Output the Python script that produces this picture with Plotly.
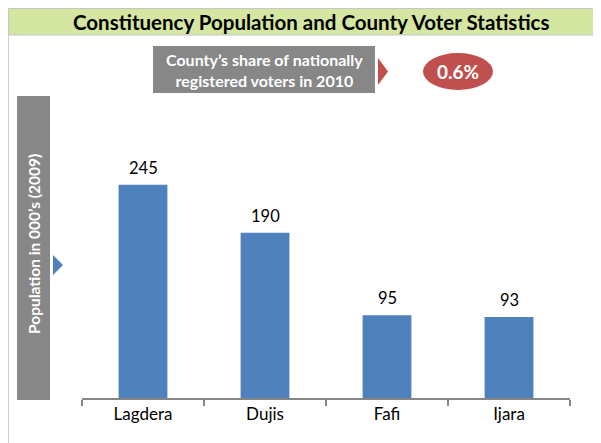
import plotly.graph_objects as go

categories = ["Lagdera", "Dujis", "Fafi", "Ijara"]
population = [245, 190, 95, 93]
title_text = "Constituency Population and County Voter Statistics"
y_title = "Population in 000’s (2009)"
share_label = "County’s share of nationally<br>registered voters in 2010"
share_value = "0.6%"

W, H = 601, 443
OFF = 8  # page body margin offset
L, R, T, B = 82, 570, 137, 398  # plot area in screen pixels


def px(x):
    return (x - L) / (R - L)


def py(y):
    return (B - y) / (B - T)


fig = go.Figure()
fig.add_trace(go.Bar(x=categories, y=population, marker_color="#4f81bd",
                     marker_line_width=0, hoverinfo="skip"))

FONT = "Lato"
annotations = []
for c, v in zip(categories, population):
    annotations.append(dict(x=c, y=v, xref="x", yref="y", text=str(v), showarrow=False,
                            xanchor="center", yanchor="middle", yshift=17,
                            font=dict(family=FONT, size=16.5, color="#000000")))


def ann(x, y, text, size, color, **kw):
    d = dict(x=px(x), y=py(y), xref="paper", yref="paper", text=text, showarrow=False,
             xanchor="center", yanchor="middle", font=dict(family=FONT, size=size, color=color))
    d.update(kw)
    return d


annotations += [
    ann(311, 22, "<b>" + title_text + "</b>", 20.5, "#000000"),
    ann(264, 70, "<b>" + share_label + "</b>", 16, "#ffffff"),
    ann(458, 71.5, "<b>" + share_value + "</b>", 19, "#ffffff"),
    ann(34, 244, "<b>" + y_title + "</b>", 15.5, "#ffffff", textangle=-90),
]

shapes = [
    # title band
    dict(type="rect", xref="paper", yref="paper", x0=px(8.5), x1=px(600.5), y0=py(8.5), y1=py(35),
         fillcolor="#d4e6a2", line=dict(color="#c6c6c6", width=1), layer="below"),
    # left frame line
    dict(type="line", xref="paper", yref="paper", x0=px(8.5), x1=px(8.5), y0=py(35), y1=py(443),
         line=dict(color="#d0d0d0", width=1)),
    # top gray box
    dict(type="rect", xref="paper", yref="paper", x0=px(153), x1=px(375), y0=py(46), y1=py(93),
         fillcolor="#878787", line=dict(width=0), layer="below"),
    # red triangle
    dict(type="path", xref="paper", yref="paper",
         path=f"M {px(378)} {py(58)} L {px(388)} {py(71.5)} L {px(378)} {py(85)} Z",
         fillcolor="#c0504d", line=dict(width=0)),
    # ellipse
    dict(type="circle", xref="paper", yref="paper", x0=px(423), x1=px(493), y0=py(53), y1=py(90),
         fillcolor="#c0504d", line=dict(width=0), layer="below"),
    # y title box
    dict(type="rect", xref="paper", yref="paper", x0=px(17), x1=px(50), y0=py(96), y1=py(400),
         fillcolor="#878787", line=dict(width=0), layer="below"),
    # blue triangle
    dict(type="path", xref="paper", yref="paper",
         path=f"M {px(53)} {py(255)} L {px(63)} {py(265)} L {px(53)} {py(275)} Z",
         fillcolor="#4f81bd", line=dict(width=0)),
]

fig.update_layout(
    width=W - OFF, height=H - OFF,
    margin=dict(l=L - OFF, r=W - R, t=T - OFF, b=H - B, pad=0),
    paper_bgcolor="#ffffff", plot_bgcolor="#ffffff",
    bargap=0.6, showlegend=False,
    annotations=annotations, shapes=shapes,
    font=dict(family=FONT),
)
fig.update_xaxes(type="category", showline=True, linecolor="#868686", linewidth=1.5,
                 ticks="outside", tickson="boundaries", ticklen=6, tickcolor="#868686",
                 tickwidth=1.5, showgrid=False, tickfont=dict(family=FONT, size=17, color="#000000"),
                 fixedrange=True)
fig.update_yaxes(range=[0, 300], visible=False, fixedrange=True)

fig.write_html("out.html")
